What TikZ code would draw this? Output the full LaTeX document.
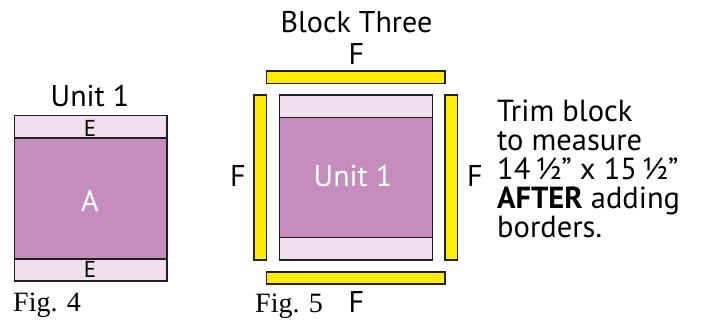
\documentclass[tikz,border=0pt]{standalone}
\usepackage{fontspec}
\setmainfont{PT Sans}
\newfontfamily\figfont{Liberation Serif}
\definecolor{darkpurp}{RGB}{196,141,190}
\definecolor{lightpurp}{RGB}{240,224,238}
\definecolor{bary}{RGB}{255,236,0}
\definecolor{edge}{RGB}{35,31,32}
\tikzset{
  piece/.style={draw=edge, line width=1.1pt},
  lbl/.style={inner sep=0pt, anchor=base, font=\fontsize{30}{31}\selectfont},
  smalllbl/.style={inner sep=0pt, anchor=base, font=\fontsize{23}{24}\selectfont},
  figlbl/.style={inner sep=0pt, anchor=base west, font=\figfont\fontsize{28}{29}\selectfont},
  noteline/.style={inner sep=0pt, anchor=base west, font=\fontsize{30.5}{31}\selectfont},
}
\begin{document}
\begin{tikzpicture}[x=1pt,y=-1pt]
\useasboundingbox (0,0) rectangle (705,320);
% Fig. 4
\filldraw[piece, fill=darkpurp] (14.5,115.5) rectangle (167,281);
\filldraw[piece, fill=lightpurp] (14.5,115.5) rectangle (167,138);
\filldraw[piece, fill=lightpurp] (14.5,259) rectangle (167,281);
\node[lbl] (unitA) at (90,106.5) {Unit 1};
\node[smalllbl] (e1) at (90,136.5) {E};
\node[smalllbl] (e2) at (90,278) {E};
\node[lbl, text=white] (a) at (90,211.5) {A};
\node[figlbl] (fig4) at (13,311.5) {Fig. 4};
% Fig. 5
\filldraw[piece, fill=darkpurp] (279.5,95) rectangle (432.5,260);
\filldraw[piece, fill=lightpurp] (279.5,95) rectangle (432.5,117.5);
\filldraw[piece, fill=lightpurp] (279.5,237.5) rectangle (432.5,260);
\filldraw[piece, fill=bary] (266.5,71) rectangle (445,83.5);
\filldraw[piece, fill=bary] (266.5,272) rectangle (445,284);
\filldraw[piece, fill=bary] (254,95) rectangle (266.5,260);
\filldraw[piece, fill=bary] (445,95) rectangle (457.5,260);
\node[lbl] (title) at (356.5,33) {Block Three};
\node[lbl] (ftop) at (356.5,65) {F};
\node[lbl] (fleft) at (238,186.5) {F};
\node[lbl] (fright) at (475,186.5) {F};
\node[lbl] (fbot) at (356.5,313) {F};
\node[lbl, text=white] (unitB) at (353,186.5) {Unit 1};
\node[figlbl] (fig5) at (255,313) {Fig. 5};
% note
\node[noteline] (n1) at (497,121.5) {Trim block};
\node[noteline] (n2) at (497,150.5) {to measure};
\node[noteline] (n3) at (497,179.5) {14\,½\textquotedblright\ x 15\,½\textquotedblright};
\node[noteline] (n4) at (497,208.5) {\textbf{AFTER} adding};
\node[noteline] (n5) at (497,237.5) {borders.};
\end{tikzpicture}
\end{document}
